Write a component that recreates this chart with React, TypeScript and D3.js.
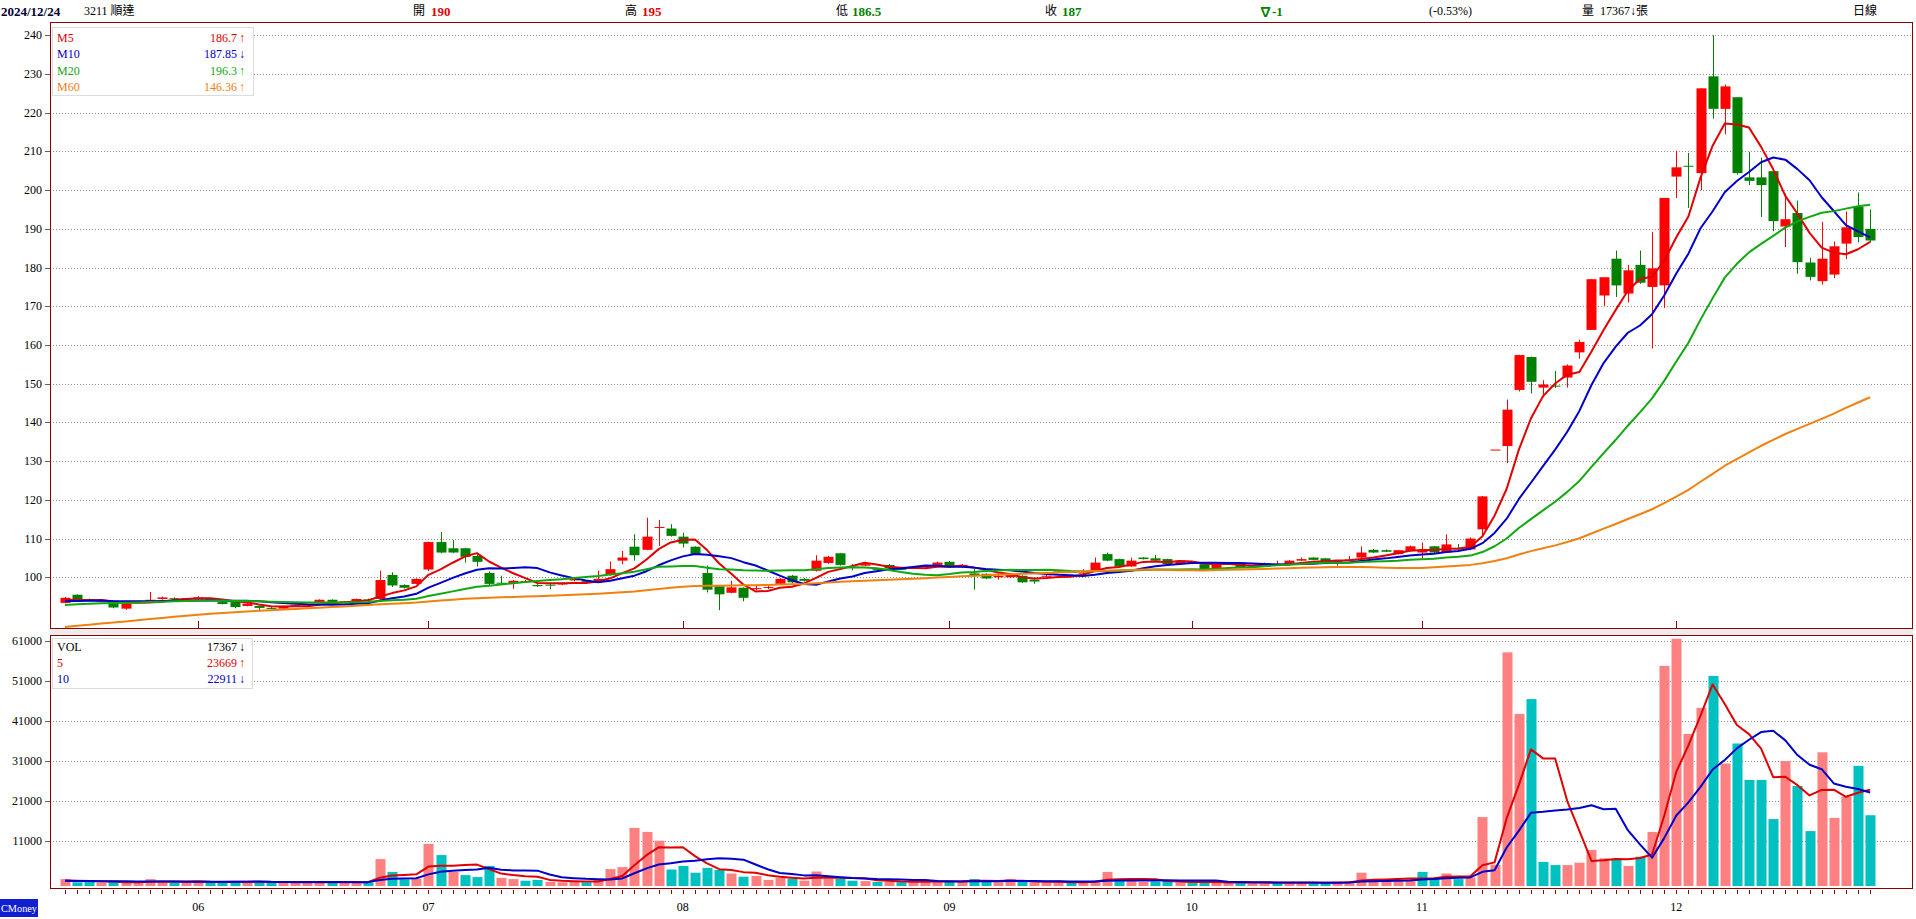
import React from 'react';
import * as d3 from 'd3';

// ---------------- DATA ----------------
const priorCloses = [
  75.5, 76.2, 75.8, 76.6, 77.0, 76.4, 75.9, 76.8, 77.5, 78.1, 77.6,
  79.7, 81.0, 81.5, 80.9, 82.3, 83.0, 82.6, 83.5, 83.1, 83.8, 83.3, 84.1, 84.7, 84.0,
  87.0, 88.2, 89.5, 90.8, 91.6, 92.4, 91.8, 92.9, 93.5, 92.6, 91.9, 92.8, 93.4, 92.2, 91.5,
  90.8, 91.2, 90.6, 91.5, 92.1, 91.8, 92.6, 93.0, 92.4, 93.1, 93.5, 92.9, 93.6, 94.0, 93.4, 93.8, 94.3, 93.7, 94.1,
];
const priorVolumes = [900, 1100, 800, 1000, 700, 900, 1200, 800, 1000];

const opens = [
  93.4, 95.5, 94.4, 94.0, 93.6, 91.9, 93.8, 94.0, 94.4, 94.6, 94.3, 94.3, 94.4, 93.6, 93.6, 92.6, 92.6, 92.1, 91.9, 92.7,
  92.8, 93.6, 94.2, 93.7, 93.8, 94.3, 94.4, 100.6, 98.0, 98.3, 102.0, 109.1, 107.5, 107.5, 105.5, 101.1, 98.6, 98.5, 98.8, 98.0,
  98.1, 98.2, 99.2, 99.1, 98.9, 100.6, 104.3, 107.9, 107.1, 112.8, 112.6, 110.5, 107.9, 101.1, 97.7, 96.0, 97.3, 97.1, 97.3, 98.3,
  100.4, 99.6, 101.7, 103.7, 106.2, 102.7, 103.0, 102.1, 103.2, 102.2, 102.3, 102.8, 103.2, 104.0, 102.6, 101.0, 100.9, 100.0, 100.0, 100.4,
  99.4, 100.3, 101.3, 101.4, 101.0, 101.7, 106.0, 104.7, 102.8, 105.1, 104.9, 104.7, 103.4, 103.6, 103.4, 102.1, 103.8, 103.7, 103.0, 103.4,
  103.1, 103.2, 104.3, 105.1, 104.9, 104.1, 104.3, 105.1, 107.1, 107.0, 106.0, 106.8, 106.4, 108.0, 106.4, 107.6, 107.2, 112.4, 133.0, 133.9,
  148.4, 156.9, 149.0, 149.5, 151.6, 158.1, 163.9, 172.8, 182.3, 173.3, 180.7, 175.0, 175.4, 203.5, 206.3, 204.4, 229.4, 221.0, 224.0, 203.3,
  203.3, 204.9, 190.6, 194.1, 181.3, 176.5, 178.2, 186.2, 195.7, 190.0,
];
const highs = [
  94.9, 95.6, 94.5, 94.1, 93.7, 93.3, 94.0, 96.2, 95.0, 94.8, 94.7, 95.1, 94.5, 93.7, 93.7, 93.3, 92.7, 92.3, 92.7, 92.9,
  93.1, 94.3, 94.3, 93.9, 94.5, 94.5, 101.7, 101.3, 98.2, 99.7, 109.2, 111.7, 109.6, 107.6, 106.0, 101.5, 100.4, 99.3, 99.3, 98.2,
  98.3, 98.6, 99.8, 99.3, 101.7, 104.1, 106.8, 111.1, 115.4, 114.8, 113.7, 111.5, 108.0, 103.0, 97.8, 99.1, 97.4, 98.0, 97.9, 99.8,
  100.6, 99.8, 105.7, 105.5, 106.3, 103.4, 103.6, 102.3, 103.4, 102.5, 102.6, 103.1, 104.0, 104.2, 103.4, 102.1, 101.0, 101.0, 101.0, 100.5,
  99.5, 100.6, 101.6, 101.5, 102.1, 105.1, 106.4, 104.8, 105.1, 105.2, 105.8, 104.8, 104.4, 104.0, 103.5, 103.5, 104.0, 103.8, 103.1, 103.8,
  104.3, 104.4, 105.1, 105.2, 105.0, 104.3, 105.5, 108.0, 107.3, 107.2, 107.1, 108.2, 109.0, 108.1, 111.1, 108.6, 110.3, 121.0, 133.0, 145.9,
  157.5, 157.0, 150.9, 153.3, 155.0, 161.4, 177.0, 177.5, 184.4, 180.7, 184.4, 189.2, 198.0, 210.2, 209.6, 226.3, 240.0, 227.3, 224.0, 209.9,
  208.4, 204.9, 199.1, 197.3, 182.5, 191.8, 186.7, 194.5, 199.4, 195.0,
];
const lows = [
  93.3, 94.0, 93.8, 93.8, 92.0, 91.6, 93.7, 93.9, 94.2, 94.3, 94.2, 94.2, 94.2, 93.0, 92.0, 92.5, 91.2, 91.8, 91.8, 92.5,
  92.7, 93.5, 93.5, 93.6, 93.7, 94.1, 94.2, 97.5, 97.1, 98.2, 101.6, 106.2, 106.3, 103.8, 102.8, 98.0, 98.2, 97.0, 98.5, 97.5,
  96.9, 98.0, 99.0, 98.8, 98.7, 100.4, 103.4, 104.3, 107.0, 108.1, 110.5, 107.7, 105.8, 96.1, 91.5, 95.9, 93.8, 96.6, 97.0, 98.1,
  98.5, 98.9, 101.5, 103.5, 103.0, 101.8, 102.9, 101.8, 102.2, 101.9, 102.1, 102.6, 103.1, 102.5, 102.5, 96.8, 99.6, 99.4, 99.8, 98.6,
  98.3, 100.2, 101.2, 101.1, 100.8, 101.5, 104.2, 102.6, 102.7, 104.6, 104.2, 103.3, 103.3, 103.4, 102.0, 102.0, 103.6, 102.5, 102.8, 103.3,
  103.0, 103.1, 104.2, 104.4, 103.9, 103.0, 104.2, 105.0, 106.3, 106.5, 105.9, 106.7, 104.8, 106.3, 106.3, 107.0, 107.0, 111.0, 133.0, 129.5,
  148.0, 147.5, 146.5, 148.9, 149.0, 156.5, 163.9, 170.1, 172.4, 171.0, 175.8, 159.1, 169.6, 198.0, 195.4, 200.0, 218.5, 214.4, 204.0, 201.3,
  193.1, 189.4, 185.3, 178.4, 176.7, 175.6, 177.3, 182.2, 186.5, 186.5,
];
const closes = [
  94.7, 94.1, 93.9, 94.0, 92.2, 93.2, 93.9, 94.2, 94.8, 94.5, 94.6, 94.8, 94.3, 93.1, 92.3, 93.2, 92.1, 92.0, 92.6, 92.8,
  93.0, 94.2, 93.6, 93.8, 94.4, 94.2, 99.3, 97.9, 97.3, 99.6, 109.1, 106.4, 106.4, 105.3, 104.0, 98.3, 98.5, 99.1, 99.0, 97.7,
  98.0, 98.4, 99.6, 99.0, 99.6, 102.1, 105.1, 105.7, 110.5, 113.0, 110.7, 108.7, 106.0, 96.8, 95.6, 97.4, 94.7, 97.2, 97.5, 99.6,
  98.7, 99.1, 104.3, 105.3, 103.2, 102.6, 103.4, 102.0, 102.3, 102.1, 102.4, 102.9, 103.8, 102.6, 103.2, 100.3, 99.7, 100.4, 100.8, 98.7,
  98.9, 100.4, 101.5, 101.2, 101.2, 103.8, 104.3, 102.8, 104.3, 104.7, 104.3, 103.4, 104.3, 103.8, 102.1, 103.4, 103.9, 102.6, 102.9, 103.5,
  103.2, 104.3, 104.7, 104.5, 104.0, 104.2, 104.6, 106.4, 106.4, 106.6, 107.0, 108.0, 107.1, 106.4, 108.5, 107.2, 110.0, 120.9, 133.0, 143.3,
  157.4, 150.5, 149.8, 149.3, 154.7, 160.8, 177.0, 177.5, 175.4, 179.3, 176.1, 179.8, 198.0, 205.9, 206.2, 226.3, 221.0, 226.8, 204.4, 202.4,
  201.3, 192.0, 192.5, 181.4, 177.6, 182.3, 185.5, 190.4, 187.9, 187.0,
];
const volumes = [
  1400, 600, 700, 500, 700, 600, 500, 1400, 800, 600, 700, 900, 600, 700, 800, 600, 900, 500, 600, 500,
  700, 800, 600, 500, 700, 600, 6400, 3200, 1300, 1500, 10200, 7400, 3200, 2400, 1900, 4700, 1700, 1400, 1000, 1200,
  700, 600, 800, 600, 1200, 3900, 4400, 14200, 13200, 11000, 3800, 4700, 3000, 4200, 3700, 2800, 2000, 2200, 1200, 1700,
  1500, 1000, 3300, 1500, 1500, 1000, 900, 700, 800, 600, 700, 800, 1000, 800, 900, 1400, 800, 600, 1400, 700,
  600, 500, 700, 600, 800, 1000, 3200, 1300, 900, 700, 800, 900, 600, 500, 700, 600, 500, 600, 400, 500,
  400, 600, 500, 400, 600, 500, 900, 3000, 1200, 1000, 1100, 1300, 3200, 1400, 2800, 1400, 1800, 16900, 5000, 58100,
  42700, 46400, 5700, 4900, 4900, 5500, 8700, 6600, 6300, 4700, 7000, 13200, 54700, 61500, 37700, 44200, 52200, 30300, 35300, 26200,
  26200, 16400, 30900, 24700, 13400, 33100, 16700, 22000, 29700, 17367,
];

const monthTickIdx = [11, 30, 51, 73, 93, 112, 133];
const monthLabels = ['06', '07', '08', '09', '10', '11', '12'];
const priceTicks = [240, 230, 220, 210, 200, 190, 180, 170, 160, 150, 140, 130, 120, 110, 100];
const volTicks = [61000, 51000, 41000, 31000, 21000, 11000];

const maPeriods = [5, 10, 20, 60];
const maNames = ['M5', 'M10', 'M20', 'M60'];
const maLegendValues = ['186.7', '187.85', '196.3', '146.36'];
const maLegendArrows = ['↑', '↓', '↑', '↑'];
const maColors = ['#e00000', '#0000c8', '#10a810', '#f08010'];

const volMaPeriods = [5, 10];
const volLegendNames = ['VOL', '5', '10'];
const volLegendValues = ['17367', '23669', '22911'];
const volLegendArrows = ['↓', '↑', '↓'];
const volLegendColors = ['#000000', '#e00000', '#0000c8'];

const headerDate = '2024/12/24';
const headerStock = '3211 順達';

// ---------------- LAYOUT ----------------
const W = 1916;
const H = 919;
const PL = 50;
const PR = 1912;
const P_TOP = 22;
const P_BOT = 628;
const V_TOP = 635;
const V_BOT = 888;
const FONT = "'Liberation Serif','Noto Sans CJK TC',serif";
const BORDER = '#8b0000';
const UP = '#ff0000';
const DOWN = '#008000';
const VUP = '#ff8080';
const VDOWN = '#00c0c0';

function sma(all: number[], offset: number, n: number, count: number): number[] {
  const out: number[] = [];
  for (let i = 0; i < count; i++) {
    const end = offset + i;
    const slice = all.slice(end - n + 1, end + 1);
    out.push(d3.mean(slice) as number);
  }
  return out;
}

export default function App() {
  const n = closes.length;
  const x = d3.scaleLinear().domain([0, n - 1]).range([65, 65 + (n - 1) * 12.115]);
  const yP = d3.scaleLinear().domain([100, 240]).range([577.3, 35.3]);
  const yV = d3.scaleLinear().domain([0, 61000]).range([884.7, 640.7]);

  const allCloses = [...priorCloses, ...closes];
  const mas = maPeriods.map((p) => sma(allCloses, priorCloses.length, p, n));
  const allVols = [...priorVolumes, ...volumes];
  const vmas = volMaPeriods.map((p) => sma(allVols, priorVolumes.length, p, n));

  const lineP = d3.line<number>().x((_, i) => x(i)).y((d) => yP(d));
  const lineV = d3.line<number>().x((_, i) => x(i)).y((d) => yV(d));

  const bodyW = 10;
  const prevClose = (i: number) => (i === 0 ? priorCloses[priorCloses.length - 1] : closes[i - 1]);

  const candles = closes.map((c, i) => {
    const o = opens[i];
    const up = c > o || (c === o && c >= prevClose(i));
    const col = up ? UP : DOWN;
    const cx = Math.round(x(i)) + 0.5;
    const top = yP(Math.max(o, c));
    const bot = yP(Math.min(o, c));
    const h = Math.max(1, bot - top);
    return (
      <g key={i}>
        <line x1={cx} x2={cx} y1={yP(highs[i])} y2={yP(lows[i])} stroke={col} strokeWidth={1} />
        <rect x={cx - bodyW / 2} y={top} width={bodyW} height={h} fill={col} />
      </g>
    );
  });

  const vbars = volumes.map((v, i) => {
    const up = closes[i] >= prevClose(i);
    const cx = Math.round(x(i)) + 0.5;
    return <rect key={i} x={cx - bodyW / 2} y={yV(v)} width={bodyW} height={886 - yV(v)} fill={up ? VUP : VDOWN} />;
  });

  const headerItems: { x: number; t: string; c: string; b?: boolean }[] = [
    { x: 413, t: '開', c: '#000' }, { x: 431, t: '190', c: '#e00000', b: true },
    { x: 625, t: '高', c: '#000' }, { x: 642, t: '195', c: '#e00000', b: true },
    { x: 836, t: '低', c: '#000' }, { x: 852, t: '186.5', c: '#008000', b: true },
    { x: 1045, t: '收', c: '#000' }, { x: 1062, t: '187', c: '#008000', b: true },
    { x: 1259, t: '∇-1', c: '#008000', b: true },
    { x: 1429, t: '(-0.53%)', c: '#000' },
    { x: 1582, t: '量', c: '#000' }, { x: 1600, t: '17367↓張', c: '#000' },
    { x: 1853, t: '日線', c: '#000' },
  ];

  return (
    <svg width={W} height={H} style={{ position: 'fixed', left: 0, top: 0, background: '#fff' }} fontFamily={FONT}>
      <defs>
        <clipPath id="cp"><rect x={PL} y={P_TOP} width={PR - PL} height={P_BOT - P_TOP} /></clipPath>
        <clipPath id="cv"><rect x={PL} y={V_TOP} width={PR - PL} height={V_BOT - V_TOP} /></clipPath>
      </defs>
      <rect x={0} y={0} width={W} height={H} fill="#fff" />
      {/* header */}
      <text x={1} y={11} fontSize={13} fontWeight="bold" fill="#000033" dominantBaseline="central">{headerDate}</text>
      <text x={84} y={11} fontSize={12} fill="#000" dominantBaseline="central">{headerStock}</text>
      {headerItems.map((h, i) => (
        <text key={i} x={h.x} y={11} fontSize={h.b ? 13 : 12} fontWeight={h.b ? 'bold' : 'normal'} fill={h.c} dominantBaseline="central">{h.t}</text>
      ))}

      {/* price pane */}
      {priceTicks.map((t) => (
        <g key={t}>
          <line x1={PL} x2={PR} y1={Math.round(yP(t)) + 0.5} y2={Math.round(yP(t)) + 0.5} stroke="#909090" strokeDasharray="1 2" />
          <line x1={45} x2={PL} y1={Math.round(yP(t)) + 0.5} y2={Math.round(yP(t)) + 0.5} stroke="#606060" />
          <text x={42} y={yP(t)} fontSize={12} textAnchor="end" dominantBaseline="central" fill="#000">{t}</text>
        </g>
      ))}
      <g clipPath="url(#cp)">
        {candles}
        {mas.map((m, k) => (
          <path key={k} d={lineP(m) as string} fill="none" stroke={maColors[k]} strokeWidth={2} strokeLinejoin="round" />
        ))}
      </g>
      {monthTickIdx.map((idx, k) => (
        <line key={k} x1={Math.round(x(idx)) + 0.5} x2={Math.round(x(idx)) + 0.5} y1={621} y2={P_BOT} stroke={BORDER} />
      ))}
      <rect x={PL + 0.5} y={P_TOP + 0.5} width={PR - PL} height={P_BOT - P_TOP} fill="none" stroke={BORDER} />

      {/* price legend */}
      <rect x={52.5} y={27.5} width={201} height={68} fill="#fff" stroke="#dcdcdc" />
      {maNames.map((nm, k) => (
        <g key={k}>
          <text x={57} y={38 + k * 16.3} fontSize={12} fill={maColors[k]} dominantBaseline="central">{nm}</text>
          <text x={237} y={38 + k * 16.3} fontSize={12} fill={maColors[k]} textAnchor="end" dominantBaseline="central">{maLegendValues[k]}</text>
          <text x={239} y={38 + k * 16.3} fontSize={12} fill={maColors[k]} dominantBaseline="central">{maLegendArrows[k]}</text>
        </g>
      ))}

      {/* separator */}
      <rect x={PL} y={P_BOT + 1} width={PR - PL + 1} height={V_TOP - P_BOT - 1} fill="#ececec" />

      {/* volume pane */}
      {volTicks.map((t) => (
        <g key={t}>
          <line x1={PL} x2={PR} y1={Math.round(yV(t)) + 0.5} y2={Math.round(yV(t)) + 0.5} stroke="#909090" strokeDasharray="1 2" />
          <line x1={45} x2={PL} y1={Math.round(yV(t)) + 0.5} y2={Math.round(yV(t)) + 0.5} stroke="#606060" />
          <text x={42} y={yV(t)} fontSize={12} textAnchor="end" dominantBaseline="central" fill="#000">{t}</text>
        </g>
      ))}
      <g clipPath="url(#cv)">
        {vbars}
        {vmas.map((m, k) => (
          <path key={k} d={lineV(m) as string} fill="none" stroke={volLegendColors[k + 1]} strokeWidth={2} strokeLinejoin="round" />
        ))}
      </g>
      <rect x={PL + 0.5} y={V_TOP + 0.5} width={PR - PL} height={V_BOT - V_TOP} fill="none" stroke={BORDER} />

      {/* volume legend */}
      <rect x={52.5} y={638.5} width={200} height={50} fill="#fff" stroke="#dcdcdc" />
      {volLegendNames.map((nm, k) => (
        <g key={k}>
          <text x={57} y={647 + k * 16} fontSize={12} fill={volLegendColors[k]} dominantBaseline="central">{nm}</text>
          <text x={237} y={647 + k * 16} fontSize={12} fill={volLegendColors[k]} textAnchor="end" dominantBaseline="central">{volLegendValues[k]}</text>
          <text x={239} y={647 + k * 16} fontSize={12} fill={volLegendColors[k]} dominantBaseline="central">{volLegendArrows[k]}</text>
        </g>
      ))}

      {/* bottom axis */}
      {closes.map((_, i) => (
        <line key={i} x1={Math.round(x(i)) + 0.5} x2={Math.round(x(i)) + 0.5} y1={890} y2={894} stroke={BORDER} />
      ))}
      {monthTickIdx.map((idx, k) => (
        <text key={k} x={x(idx)} y={907} fontSize={12} textAnchor="middle" dominantBaseline="central" fill="#000">{monthLabels[k]}</text>
      ))}
      <rect x={0} y={899} width={38} height={18} fill="#1020d0" />
      <text x={1} y={908} fontSize={11} fill="#fff" dominantBaseline="central" textLength={36} lengthAdjust="spacingAndGlyphs">CMoney</text>
    </svg>
  );
}
